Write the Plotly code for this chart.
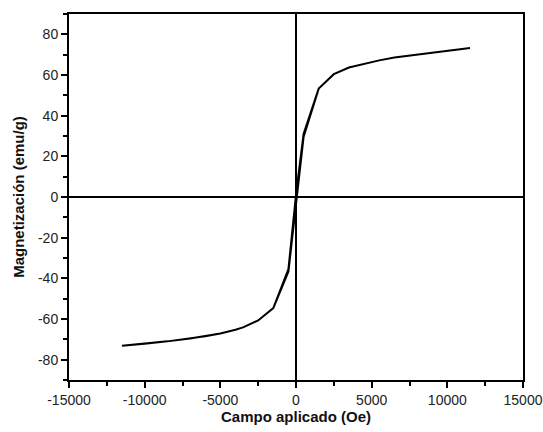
import plotly.graph_objects as go

# Hysteresis loop: ascending branch then descending branch (Oe, emu/g)
campo_asc = [-11500, -10000, -8500, -7000, -6000, -5000, -4000, -3500, -2500, -1500, -500, 0,
             500, 1500, 2500, 3500, 4500, 5500, 6500, 7500, 8500, 9500, 10500, 11500]
mag_asc = [-73.1, -72.2, -71.0, -69.6, -68.5, -67.1, -65.3, -64.1, -60.7, -54.6, -36.6, -2.0,
           29.5, 53.3, 60.4, 63.7, 65.6, 67.2, 68.6, 69.6, 70.6, 71.5, 72.4, 73.3]
campo_desc = [11500, 10500, 9500, 8500, 7500, 6500, 5500, 4500, 3500, 2500, 1500, 500, 0,
              -500, -1500, -2500, -3500, -4000, -5000, -6000, -7000, -8500, -10000, -11500]
mag_desc = [73.3, 72.4, 71.5, 70.6, 69.6, 68.6, 67.2, 65.6, 63.7, 60.4, 53.3, 31.0, 1.0,
            -35.5, -54.6, -60.7, -64.1, -65.3, -67.1, -68.5, -69.6, -71.0, -72.2, -73.1]

x_ticks = [-15000, -10000, -5000, 0, 5000, 10000, 15000]
x_labels = ["-15000", "-10000", "-5000", "0", "5000", "10000", "15000"]
y_ticks = [-80, -60, -40, -20, 0, 20, 40, 60, 80]
y_labels = ["-80", "-60", "-40", "-20", "0", "20", "40", "60", "80"]

fig = go.Figure()
fig.add_trace(go.Scatter(x=campo_asc + campo_desc[1:], y=mag_asc + mag_desc[1:],
                         mode="lines", line=dict(color="black", width=2),
                         showlegend=False, hoverinfo="skip"))

font = dict(family="Liberation Sans, Arial, sans-serif", size=14, color="#222")
fig.update_layout(
    width=543, height=432,
    margin=dict(l=69, r=20, t=14, b=52),
    paper_bgcolor="white", plot_bgcolor="white",
    font=font,
    xaxis=dict(range=[-15000, 15000], tickvals=x_ticks, ticktext=x_labels, ticks="outside", ticklen=6,
               tickwidth=1.5, tickcolor="black", showgrid=False, automargin=False,
               zeroline=True, zerolinecolor="black", zerolinewidth=2,
               showline=True, linecolor="black", linewidth=2, mirror=True,
               minor=dict(dtick=2500, ticks="outside", ticklen=4, tickcolor="black", tickwidth=1.5),
               title=dict(text="<b>Campo aplicado (Oe)</b>", font=dict(size=15, color="#111"), standoff=4)),
    yaxis=dict(range=[-90, 90], tickvals=y_ticks, ticktext=y_labels, ticks="outside", ticklen=6,
               tickwidth=1.5, tickcolor="black", showgrid=False, automargin=False,
               zeroline=True, zerolinecolor="black", zerolinewidth=2,
               showline=True, linecolor="black", linewidth=2, mirror=True,
               minor=dict(dtick=10, ticks="outside", ticklen=4, tickcolor="black", tickwidth=1.5),
               title=dict(text="<b>Magnetización (emu/g)</b>", font=dict(size=15, color="#111"), standoff=10)),
)

fig.write_html("out.html", config={"displayModeBar": False},
               post_script="document.body.style.margin='0';document.body.style.overflow='hidden';")
